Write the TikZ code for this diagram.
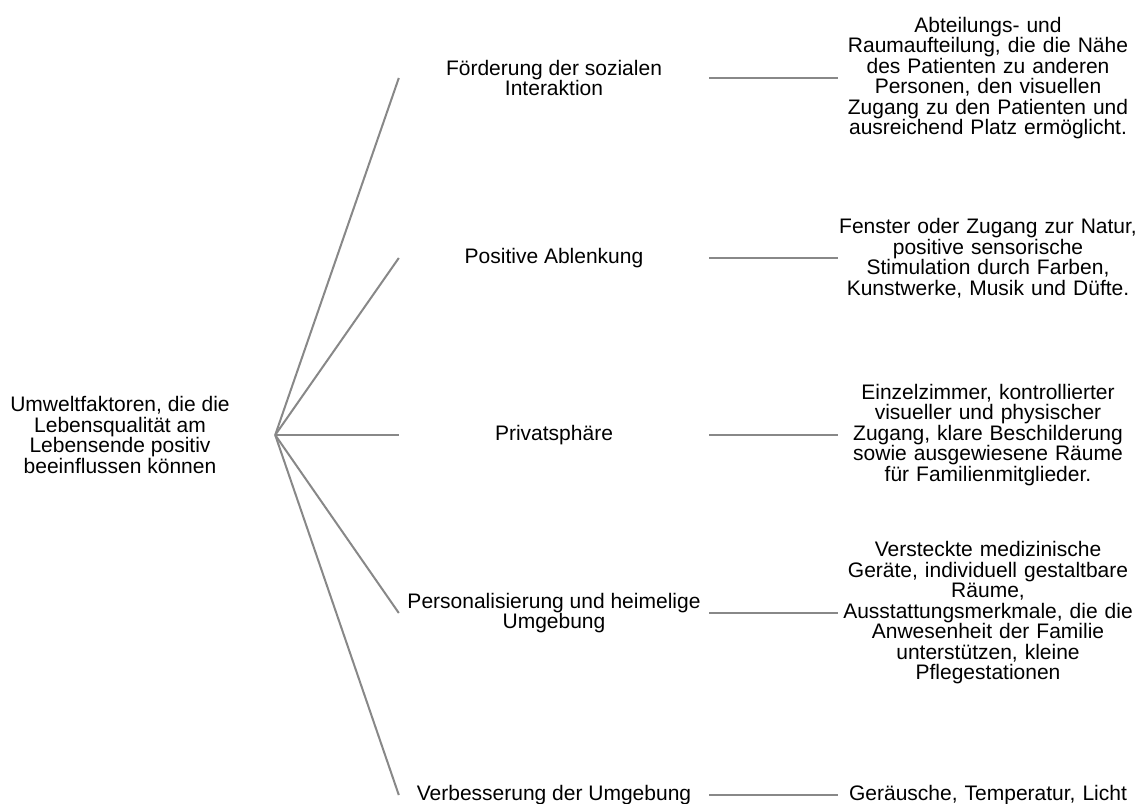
\documentclass[tikz,border=0pt]{standalone}
\usepackage{fontspec}
\setmainfont{Liberation Sans}
\definecolor{linegray}{HTML}{888888}
\begin{document}
\begin{tikzpicture}[x=1pt,y=-1pt,
  every node/.style={font=\fontsize{21}{20.5}\selectfont, align=center, inner sep=0pt},
  rootbox/.style={minimum width=310pt},
  midbox/.style={minimum width=310pt},
  leafbox/.style={text width=300pt},
  link/.style={draw=linegray, line width=2pt}]
\useasboundingbox (0,0) rectangle (1139,803);

\node[rootbox] (root) at (120,435) {Umweltfaktoren, die die\\Lebensqualität am\\Lebensende positiv\\beeinflussen können};

\node[midbox] (soz) at (554,78) {Förderung der sozialen\\Interaktion};
\node[midbox] (abl) at (554,258) {Positive Ablenkung};
\node[midbox] (priv) at (554,435) {Privatsphäre};
\node[midbox] (pers) at (554,613) {Personalisierung und heimelige\\Umgebung};
\node[midbox] (umg) at (554,795) {Verbesserung der Umgebung};

\node[leafbox] (sozL) at (988,78) {Abteilungs- und\\Raumaufteilung, die die Nähe\\des Patienten zu anderen\\Personen, den visuellen\\Zugang zu den Patienten und\\ausreichend Platz ermöglicht.};
\node[leafbox] (ablL) at (988,258) {Fenster oder Zugang zur Natur,\\positive sensorische\\Stimulation durch Farben,\\Kunstwerke, Musik und Düfte.};
\node[leafbox] (privL) at (988,435) {Einzelzimmer, kontrollierter\\visueller und physischer\\Zugang, klare Beschilderung\\sowie ausgewiesene Räume\\für Familienmitglieder.};
\node[leafbox] (persL) at (988,613) {Versteckte medizinische\\Geräte, individuell gestaltbare\\Räume,\\Ausstattungsmerkmale, die die\\Anwesenheit der Familie\\unterstützen, kleine\\Pflegestationen};
\node[leafbox] (umgL) at (988,795) {Geräusche, Temperatur, Licht};

% Aeste vom Wurzelknoten
\foreach \m in {soz,abl,priv,pers,umg}
  \draw[link] (root.east) -- (\m.west);

% Aeste zu den Beispielen
\foreach \m in {soz,abl,priv,pers,umg}
  \draw[link] (\m.east) -- (\m L.west);
\end{tikzpicture}
\end{document}
